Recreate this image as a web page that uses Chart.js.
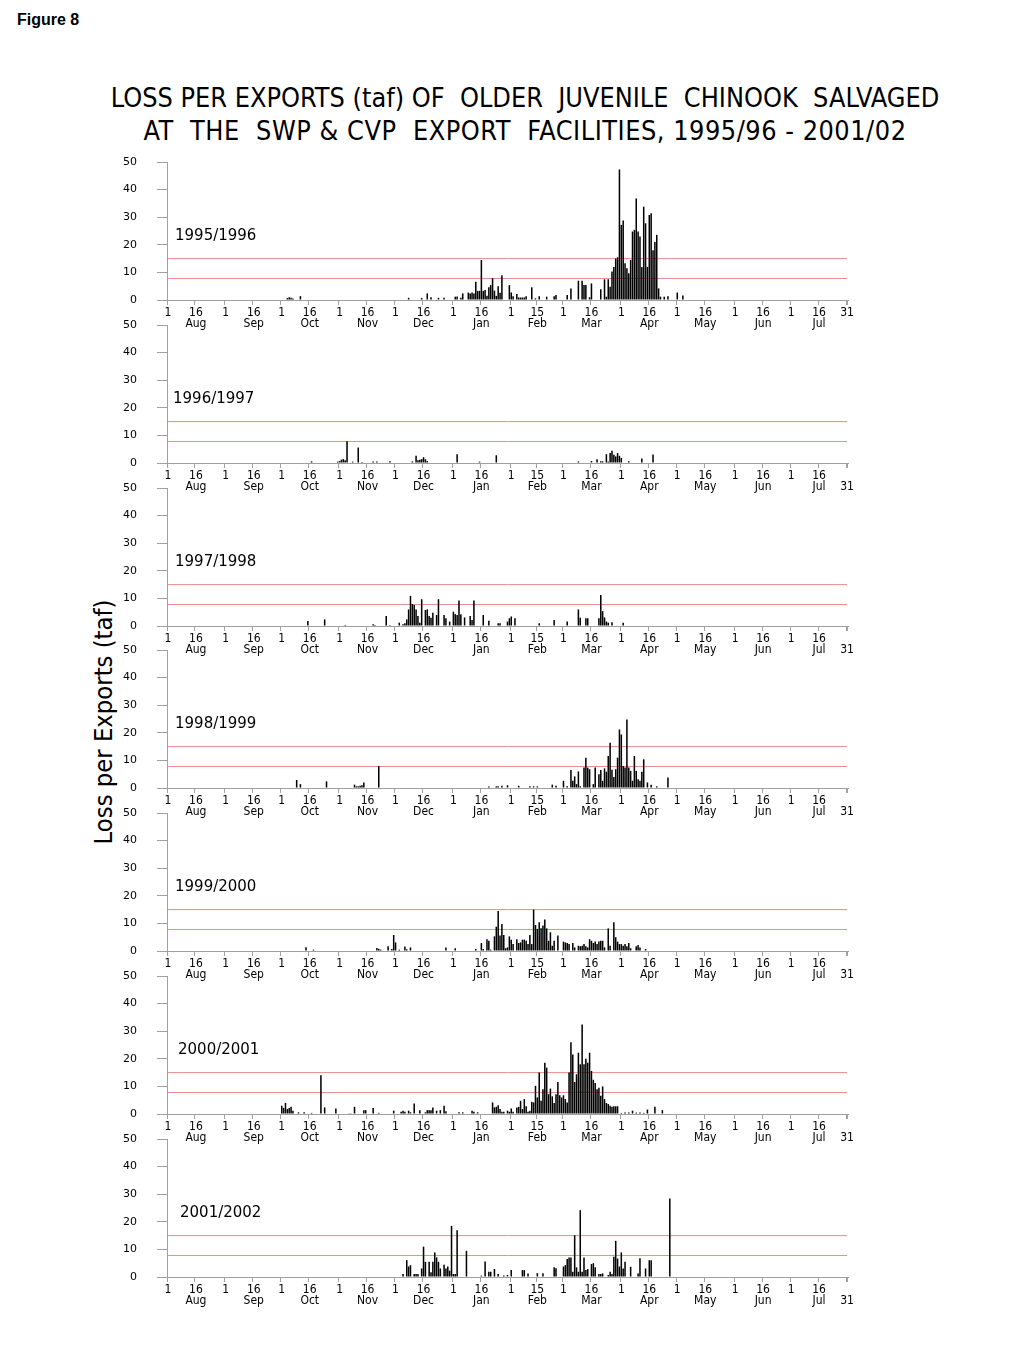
<!DOCTYPE html>
<html>
<head>
<meta charset="utf-8">
<script src="https://cdn.jsdelivr.net/npm/chart.js@4.4.0/dist/chart.umd.min.js"></script>
<style>
  body { margin: 0; background: #fff; width: 1024px; height: 1365px; position: relative; overflow: hidden; }
  #fig { position: absolute; left: 17px; top: 11px; font: bold 16px "Liberation Sans", Arial, sans-serif; }
  .title { position: absolute; left: 0; width: 1050px; text-align: center; white-space: pre;
           font-family: "DejaVu Sans Condensed", "DejaVu Sans", sans-serif; font-size: 24px; line-height: 30px; }
  .probe { position: absolute; left: -2000px; top: 0; white-space: pre; }
  #ylab { position: absolute; left: 103px; top: 722px; transform: translate(-50%, -50%) rotate(-90deg);
          white-space: nowrap; font-family: "DejaVu Sans Condensed", "DejaVu Sans", sans-serif; font-size: 22px; }
  .season { position: absolute; font-family: "DejaVu Sans", sans-serif; font-size: 15px; line-height: 18px; }
  canvas { position: absolute; }
</style>
</head>
<body>
<div id="fig">Figure 8</div>
<div class="title" id="t1" style="top:83px">LOSS PER EXPORTS (taf) OF  OLDER  JUVENILE  CHINOOK  SALVAGED</div>
<div class="title" id="t2" style="top:116px">AT  THE  SWP &amp; CVP  EXPORT  FACILITIES, 1995/96 - 2001/02</div>
<div id="ylab">Loss per Exports (taf)</div>
<script>
// season year Aug 1 .. Jul 31
const months = ['Aug', 'Sep', 'Oct', 'Nov', 'Dec', 'Jan', 'Feb', 'Mar', 'Apr', 'May', 'Jun', 'Jul'];
const monthLength = [31, 30, 31, 30, 31, 31, 28, 31, 30, 31, 30, 31];
const midMonthDay = [16, 16, 16, 16, 16, 16, 15, 16, 16, 16, 16, 16];

const seasons = ['1995/1996', '1996/1997', '1997/1998', '1998/1999', '1999/2000', '2000/2001', '2001/2002'];
const yTicks = [0, 10, 20, 30, 40, 50];
const thresholds = [15, 7.8];

// [day counted from Aug 1 = 0, loss per taf]
const loss1995 = [[64,0.7],[65,1.0],[66,0.8],[67,0.5],[71,1.4],
  [129,0.8],[136,0.7],[139,2.4],[141,1.0],[145,0.8],[148,0.8],
  [154,1.2],[155,1.3],[157,0.8],[158,2.4],[161,2.7],[162,2.4],[163,2.7],[164,2.4],
  [165,6.6],[166,3.3],[167,3.3],[168,14.5],[169,3.3],[170,3.6],[171,1.5],[172,4.6],[173,5.4],[174,7.9],[175,3.4],[176,1.5],[177,5.0],[178,2.6],[179,9.0],
  [183,5.4],[184,2.7],[185,1.4],[187,2.2],[188,0.9],[189,0.9],[190,0.9],[191,0.9],[192,1.4],[195,4.6],
  [197,0.6],[199,1.4],[203,1.2],[207,1.4],[208,1.8],[214,1.8],[216,4.2],
  [220,7.0],[222,7.0],[223,5.4],[224,5.4],[226,1.0],[227,6.0],
  [232,3.9],[234,7.5],[235,1.2],[236,7.5],[237,4.8],[238,10.3],[239,12],[240,15],[241,15.5],[242,47.3],[243,27.2],[244,28.8],[245,13.3],[246,11.5],[247,9.7],[248,14.5],[249,24.8],[250,25.4],[251,36.8],[252,24.8],[253,23],[254,12],[255,33.8],[256,27.8],[257,12],[258,30.8],[259,31.4],[260,18],[261,21],[262,23.6],[263,4.2],[264,1.2],[266,1.2],[268,1.4],[273,2.7],[276,1.6]];

const loss1996 = [[77,0.6],[91,0.5],[92,0.7],[93,1.2],[94,1.4],[95,1.0],[96,7.9],[99,0.5],[102,5.6],[104,0.4],[110,0.5],[112,0.5],[119,0.6],
  [131,0.6],[133,2.6],[134,1.0],[135,1.2],[136,1.4],[137,2.1],[138,1.4],[139,0.7],
  [155,3.2],[167,0.5],[176,2.8],
  [220,0.6],[227,0.7],[230,1.4],[232,0.6],[233,0.6],[235,3.2],[236,0.5],[237,3.6],[238,4.4],[239,3.0],[240,2.4],[241,3.6],[242,2.6],[243,1.8],[247,0.6],[254,1.6],[260,3.1]];

const loss1997 = [[75,1.8],[84,2.4],[95,0.4],[110,0.6],[111,0.4],[117,3.6],[119,0.4],[124,1.2],
  [126,0.6],[127,1.0],[128,2.4],[129,6.0],[130,10.9],[131,8.0],[132,7.6],[133,6.0],[134,3.6],[135,1.2],
  [136,9.7],[138,5.8],[139,6.0],[140,3.6],[141,3.0],[142,4.8],[144,4.0],[145,9.7],[148,4.0],[149,2.8],[151,1.6],[153,5.2],[154,4.3],[155,4.0],[156,9.2],[157,4.3],[159,3.1],[162,3.6],[163,2.2],[164,9.2],
  [169,4.0],[172,1.9],[177,1.0],[178,1.0],[182,1.6],[183,2.8],[184,3.4],[186,2.8],
  [199,1.0],[207,2.2],[214,1.6],[220,6.0],[221,3.0],[224,2.8],[225,2.8],[231,2.8],[232,11.2],[233,5.4],[234,3.1],[235,1.6],[236,1.2],[238,1.4],[244,1.2]];

const loss1998 = [[69,2.9],[71,1.4],[85,2.4],[100,1.2],[101,0.6],[102,0.6],[103,0.8],[104,1.0],[105,2.0],[113,8.0],
  [172,0.5],[176,0.6],[177,0.6],[179,0.8],[182,1.0],[188,0.8],[194,0.6],[196,0.6],[198,0.6],[206,1.2],[208,0.8],[212,2.6],
  [214,0.6],[216,6.5],[217,2.6],[218,4.2],[219,1.4],[220,6.0],[221,0.6],[223,7.4],[224,11.0],[225,7.4],[226,6.8],[228,1.4],[229,7.4],[231,5.0],[232,6.5],[233,2.6],[234,7.1],[235,5.9],[236,11.6],[237,16.4],[238,6.6],[239,4.0],[240,6.8],[241,11.0],[242,21.2],[243,19.4],[244,8.0],[245,7.4],[246,24.8],[247,7.4],[248,6.2],[249,2.6],[250,11.6],[251,6.2],[252,3.2],[253,2.6],[254,5.9],[255,10.4],[257,2.0],[259,1.2],[262,0.6],[268,3.8]];

const loss1999 = [[74,1.4],[78,0.5],[112,1.1],[113,0.8],[114,0.5],[118,1.7],[120,0.7],[121,5.8],[122,3.1],[124,0.5],[127,1.6],[128,0.6],[130,1.3],
  [149,1.3],[154,1.0],
  [165,0.7],[168,2.9],[169,0.7],[171,4.3],[172,3.7],[173,0.5],[175,5.3],[176,8.8],[177,14.5],[178,5.6],[179,9.8],[180,5.8],[181,1.0],[182,1.3],[183,5.3],[184,4.1],[185,2.5],[187,4.3],[188,2.9],[189,3.1],[190,4.1],[191,4.1],[192,3.7],[193,2.5],[194,5.8],[195,2.5],[196,15.0],[197,9.4],[198,8.0],[199,10.4],[200,8.2],[201,9.2],[202,11.4],[203,8.2],[204,3.7],[205,6.8],[206,1.9],[207,3.7],[209,5.6],
  [212,3.4],[213,3.1],[214,2.9],[215,2.5],[217,2.9],[218,1.3],[220,1.9],[221,1.7],[222,1.9],[223,2.5],[224,1.7],[225,1.3],[226,4.3],[227,3.7],[228,2.9],[229,3.4],[230,2.5],[231,3.4],[232,3.7],[233,3.7],[234,1.3],[236,8.2],[237,1.9],[239,10.4],[240,5.0],[241,3.4],[242,2.5],[243,2.5],[244,1.9],[245,2.5],[246,1.7],[247,2.9],[248,1.0],[251,1.7],[252,2.2],[253,1.3],[256,0.7]];

const loss2000 = [[61,3.0],[62,2.2],[63,4.0],[64,1.8],[65,2.2],[66,2.6],[67,1.2],[70,0.6],[73,0.6],[77,0.4],[82,14.0],[84,2.4],[90,2.0],[97,0.3],[98,0.3],[100,2.6],[105,1.4],[106,1.4],[110,2.2],[113,0.4],
  [121,1.2],[125,0.8],[126,1.2],[127,0.8],[129,1.2],[130,0.6],[132,3.8],[135,1.4],[138,0.6],[139,1.4],[140,1.4],[141,1.4],[142,2.4],[144,1.2],[146,1.4],[148,3.0],[149,1.0],[156,0.6],[158,0.6],[163,1.2],[164,0.8],[166,0.6],
  [174,4.2],[175,2.4],[176,2.6],[177,3.2],[178,1.8],[179,0.8],[180,0.8],[182,1.2],[183,0.8],[184,2.0],[185,0.8],[187,2.4],[188,2.6],[189,4.8],[190,1.8],[191,5.4],[192,2.8],[193,0.8],[194,1.2],[195,4.4],[196,4.2],[197,10.2],[198,6.0],[199,15.0],[200,4.8],[201,9.0],[202,18.6],[203,16.8],[204,7.2],[205,9.2],[206,6.4],[207,4.0],[208,7.2],[209,11.6],[210,6.8],[211,6.0],[212,6.8],[213,5.4],[214,4.2],[215,15.0],[216,26.0],[217,21.6],[218,11.6],[219,14.4],[220,22.2],[221,18.0],[222,32.4],[223,18.0],[224,20.0],[225,18.6],[226,22.2],[227,15.6],[228,12.4],[229,11.2],[230,9.0],[231,9.5],[232,6.6],[233,10.0],[234,5.4],[235,4.0],[236,3.6],[237,3.0],[238,2.6],[239,2.8],[240,2.8],[241,2.8],
  [243,0.4],[245,0.5],[247,0.5],[249,1.2],[251,0.5],[253,0.5],[255,0.4],[257,1.6],[261,2.6],[265,1.4]];

const loss2001 = [[126,1.1],[128,6.1],[129,3.8],[130,4.3],[132,1.1],[133,1.1],[134,1.1],[136,3.1],[137,11.0],[138,5.5],[140,5.5],
  [141,1.7],[142,5.5],[143,8.9],[144,7.1],[145,5.5],[146,3.1],[148,4.4],[149,3.1],[150,3.8],[151,2.3],[152,18.5],[153,1.1],[154,1.1],[155,16.9],[160,9.5],
  [168,0.5],[170,5.6],[172,1.9],[173,1.9],[175,2.9],[177,1.1],[180,0.5],[182,0.7],[184,2.5],[190,2.5],[191,2.5],[193,1.3],[198,1.4],[201,1.4],
  [207,3.5],[208,3.2],[212,3.8],[213,4.3],[214,6.5],[215,7.1],[216,7.1],[217,1.9],[218,15.1],[219,3.5],[220,1.9],[221,24.2],[222,1.9],[223,7.1],[224,2.5],[225,2.9],[227,4.7],[228,5.0],[229,3.5],
  [231,1.1],[232,1.1],[233,1.3],[236,0.7],[237,1.9],[238,1.1],[239,7.3],[240,13.1],[241,6.7],[242,3.8],[243,8.9],[244,3.1],[245,5.5],[248,3.7],[252,1.3],[253,6.8],[256,3.1],[258,6.1],[259,6.1],[269,28.4]];

const seasonLoss = [loss1995, loss1996, loss1997, loss1998, loss1999, loss2000, loss2001];

// day labels "Aug 1" ... "Jul 31"
const dayLabels = [];
const dayMonth = [];
const dayOfMonth = [];
months.forEach((m, mi) => {
  for (let d = 1; d <= monthLength[mi]; d++) {
    dayLabels.push(m + ' ' + d);
    dayMonth.push(mi);
    dayOfMonth.push(d);
  }
});
const lastDay = dayLabels.length - 1;

function isTickDay(i) {
  if (i === undefined || i >= lastDay) return true;
  return dayOfMonth[i] === 1 || dayOfMonth[i] === midMonthDay[dayMonth[i]];
}

function tickText(i, panel) {
  if (i === lastDay) return panel === 0 ? '31' : ['', '31'];
  const d = dayOfMonth[i], mi = dayMonth[i];
  if (d === 1) return '1';
  if (d === midMonthDay[mi]) return [String(d), months[mi]];
  return '';
}

const tickFont = { family: '"DejaVu Sans Condensed", "DejaVu Sans", sans-serif', size: 12, lineHeight: 0.93 };
const axisGrey = '#a0a0a0';
const lineColor = 'rgb(232, 140, 140)';
const padTop = 28;   // room kept above the plot for the "50" label and its padding

seasons.forEach((name, p) => {
  const top = Math.round(162 + p * 162.8);
  const cv = document.createElement('canvas');
  cv.width = 770;
  cv.height = padTop + 138 + 34;
  cv.style.left = '100px';
  cv.style.top = (top - padTop) + 'px';
  document.body.appendChild(cv);

  const bars = new Array(dayLabels.length).fill(null);
  seasonLoss[p].forEach(([d, v]) => { bars[d] = v; });

  const datasets = [{
    type: 'bar',
    data: bars,
    backgroundColor: '#000',
    barPercentage: 1,
    categoryPercentage: 0.82,
    order: 0
  }];
  thresholds.forEach(t => {
    datasets.push({
      type: 'line',
      data: [{ x: dayLabels[0], y: t }, { x: dayLabels[lastDay], y: t }],
      borderColor: lineColor,
      borderWidth: 1,
      pointRadius: 0,
      order: 1
    });
  });

  new Chart(cv, {
    data: { labels: dayLabels, datasets },
    options: {
      responsive: false,
      animation: false,
      devicePixelRatio: 1,
      layout: { padding: { top: padTop, right: 22, left: 0, bottom: 0 } },
      plugins: { legend: { display: false }, tooltip: { enabled: false } },
      scales: {
        x: {
          type: 'category',
          offset: true,
          grid: {
            offset: true,
            drawOnChartArea: false,
            tickLength: 5,
            color: ctx => isTickDay(ctx.index) ? axisGrey : 'rgba(0,0,0,0)'
          },
          border: { color: axisGrey },
          ticks: {
            autoSkip: false,
            maxRotation: 0,
            minRotation: 0,
            padding: 2,
            color: '#000',
            font: tickFont,
            callback: (v, i) => tickText(i, p)
          },
          afterFit: s => { s.height = 34; }
        },
        y: {
          min: 0,
          max: 50,
          afterBuildTicks: s => { s.ticks = yTicks.map(v => ({ value: v })); },
          grid: { drawOnChartArea: false, tickLength: 10, color: axisGrey },
          border: { color: axisGrey },
          ticks: { padding: 20, color: '#000', font: { family: '"DejaVu Sans", sans-serif', size: 11 } },
          afterFit: s => { s.width = 67; }
        }
      }
    }
  });

  const lab = document.createElement('div');
  lab.className = 'season';
  lab.textContent = name;
  lab.style.left = (p === 5 ? 178 : p === 6 ? 180 : p === 1 ? 173 : 175) + 'px';
  lab.style.top = (top + 64) + 'px';
  document.body.appendChild(lab);
});

// size title and axis label to the reference widths (measured unrotated)
function textWidth(el, fontSize) {
  const probe = document.createElement('span');
  probe.className = 'probe';
  probe.style.fontFamily = getComputedStyle(el).fontFamily;
  probe.style.fontSize = fontSize + 'px';
  probe.textContent = el.textContent;
  document.body.appendChild(probe);
  const w = probe.getBoundingClientRect().width;
  probe.remove();
  return w;
}
const t1 = document.getElementById('t1'), t2 = document.getElementById('t2');
const tfs = 24 * 829 / textWidth(t1, 24);
t1.style.fontSize = tfs + 'px';
t2.style.fontSize = tfs + 'px';
const w2 = textWidth(t2, tfs);
t2.style.letterSpacing = ((763 - w2) / t2.textContent.length) + 'px';
const yl = document.getElementById('ylab');
yl.style.fontSize = (22 * 245 / textWidth(yl, 22)) + 'px';
</script>
</body>
</html>
